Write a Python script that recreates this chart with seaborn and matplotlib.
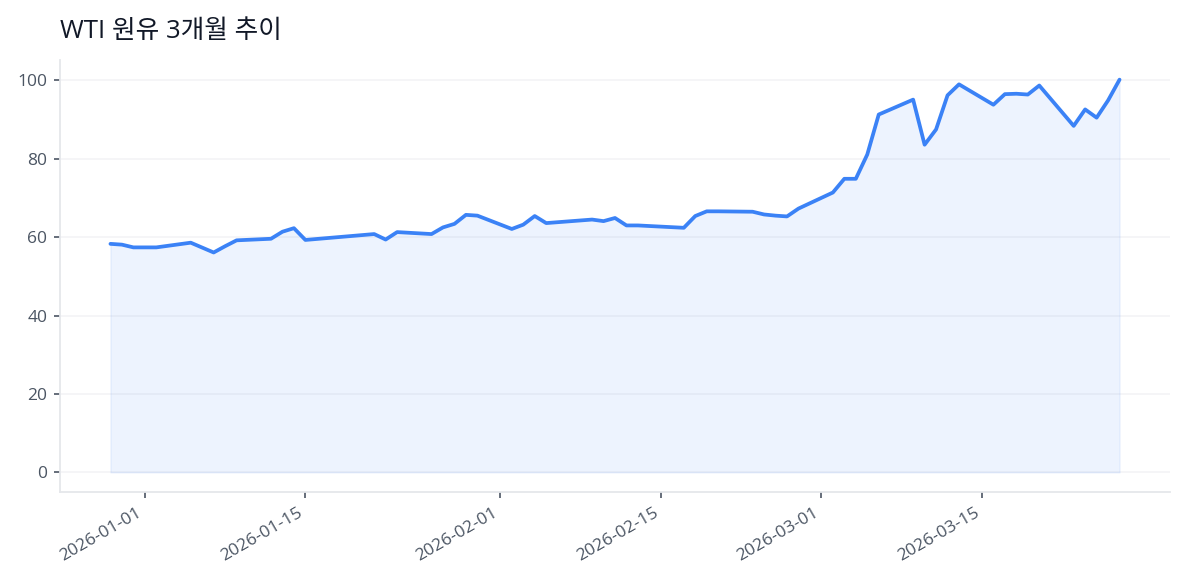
import pandas as pd
import matplotlib
matplotlib.use("Agg")
import matplotlib.pyplot as plt
import matplotlib.dates as mdates
import seaborn as sns

# WTI closing prices
dates = [
    "2025-12-29", "2025-12-30", "2025-12-31", "2026-01-02", "2026-01-05",
    "2026-01-07", "2026-01-08", "2026-01-09", "2026-01-12", "2026-01-13",
    "2026-01-14", "2026-01-15", "2026-01-21", "2026-01-22", "2026-01-23",
    "2026-01-26", "2026-01-27", "2026-01-28", "2026-01-29", "2026-01-30",
    "2026-02-02", "2026-02-03", "2026-02-04", "2026-02-05", "2026-02-09",
    "2026-02-10", "2026-02-11", "2026-02-12", "2026-02-13", "2026-02-17",
    "2026-02-18", "2026-02-19", "2026-02-20", "2026-02-23", "2026-02-24",
    "2026-02-25", "2026-02-26", "2026-02-27", "2026-03-02", "2026-03-03",
    "2026-03-04", "2026-03-05", "2026-03-06", "2026-03-09", "2026-03-10",
    "2026-03-11", "2026-03-12", "2026-03-13", "2026-03-16", "2026-03-17",
    "2026-03-18", "2026-03-19", "2026-03-20", "2026-03-23", "2026-03-24",
    "2026-03-25", "2026-03-26", "2026-03-27",
]
prices = [
    58.3, 58.1, 57.4, 57.4, 58.6,
    56.1, 57.7, 59.2, 59.6, 61.4,
    62.3, 59.3, 60.8, 59.4, 61.3,
    60.8, 62.5, 63.4, 65.7, 65.5,
    62.1, 63.2, 65.4, 63.6, 64.5,
    64.1, 64.9, 63.0, 63.0, 62.4,
    65.4, 66.6, 66.6, 66.5, 65.8,
    65.5, 65.3, 67.3, 71.4, 74.9,
    74.9, 81.1, 91.3, 95.1, 83.6,
    87.5, 96.2, 99.0, 93.8, 96.5,
    96.6, 96.4, 98.7, 88.4, 92.6,
    90.5, 94.9, 100.2,
]

title = "WTI 원유 3개월 추이"
yticks = [0, 20, 40, 60, 80, 100]

df = pd.DataFrame({"date": pd.to_datetime(dates), "price": prices})

sns.set_theme(style="white")
plt.rcParams["font.family"] = ["Open Sans", "Noto Sans CJK KR", "DejaVu Sans"]

line_color = "#3b82f6"
text_color = "#4b5563"
edge_color = "#e5e7eb"

fig = plt.figure(figsize=(11.85, 5.85), dpi=100)
ax = fig.add_axes([60 / 1185, 93 / 585, 1110 / 1185, 432 / 585])

ax.fill_between(df["date"], df["price"], 0, color=line_color, alpha=0.09, zorder=2)
sns.lineplot(data=df, x="date", y="price", ax=ax, color=line_color,
             linewidth=2.7, zorder=3)

ax.set_yticks(yticks)
ax.xaxis.set_major_locator(mdates.DayLocator(bymonthday=[1, 15]))
ax.xaxis.set_major_formatter(mdates.DateFormatter("%Y-%m-%d"))
plt.setp(ax.get_xticklabels(), rotation=30, ha="right")

ax.grid(axis="y", color="#f3f4f6", linewidth=1.2, zorder=0)
ax.set_axisbelow(True)
ax.set_xlabel("")
ax.set_ylabel("")

for side in ["top", "right"]:
    ax.spines[side].set_visible(False)
for side in ["left", "bottom"]:
    ax.spines[side].set_color(edge_color)
    ax.spines[side].set_linewidth(1.3)

ax.tick_params(axis="both", which="major", length=4, width=1.2, pad=5,
               color=text_color, labelcolor=text_color, labelsize=12.5,
               bottom=True, left=True)

ax.set_title(title, loc="left", fontsize=18.5, color="#111827", pad=16)

fig.savefig("out.png", dpi=100, facecolor="white")
